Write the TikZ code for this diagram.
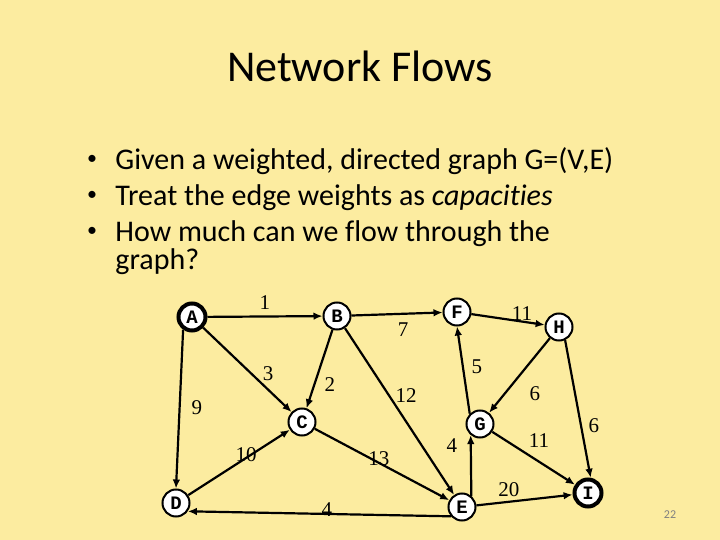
\documentclass[tikz,border=0pt]{standalone}
\usepackage{fontspec}
\setmainfont{Carlito}[Ligatures=NoCommon]
\newfontfamily\weightfont{Liberation Serif}
\newfontfamily\vertexfont{Liberation Mono}
\usetikzlibrary{arrows.meta}

\definecolor{slideyellow}{RGB}{252,236,160}

\tikzset{
  vertex/.style={circle, draw=black, fill=white, line width=1pt,
    minimum size=13.5pt, inner sep=0pt,
    font=\vertexfont\bfseries\fontsize{9.5}{9.5}\selectfont},
  terminal/.style={vertex, line width=2pt},
  flow/.style={line width=1.1pt, -{Latex[length=4.5pt,width=3.8pt]}},
  weight/.style={inner sep=0pt, font=\weightfont\fontsize{10.5}{10.5}\selectfont},
  bullettext/.style={anchor=base west, inner sep=0pt,
    font=\fontsize{15}{15}\selectfont},
  dot/.style={inner sep=0pt, font=\fontsize{10}{10}\selectfont}
}

\begin{document}
\begin{tikzpicture}[x=0.5pt,y=-0.5pt]
    \fill[slideyellow] (0,0) rectangle (720,540);

    % title and bullets
    \node[anchor=base, font=\fontsize{22}{22}\selectfont] (title) at (360,82) {Network Flows};
    \node[dot] (dot1) at (92,160) {\textbullet};
    \node[dot] (dot2) at (92,196) {\textbullet};
    \node[dot] (dot3) at (92,232) {\textbullet};
    \node[bullettext] (line1) at (115,170) {Given a weighted, directed graph G=(V,E)};
    \node[bullettext] (line2) at (115,206) {Treat the edge weights as \textit{capacities}};
    \node[bullettext] (line3) at (115,242) {How much can we flow through the};
    \node[bullettext] (line4) at (115,270) {graph?};

    % vertices
    \node[terminal] (A) at (192,317) {A};
    \node[vertex] (B) at (337,316) {B};
    \node[vertex] (F) at (457,312) {F};
    \node[vertex] (H) at (559,327) {H};
    \node[vertex] (C) at (302,422) {C};
    \node[vertex] (G) at (480,424) {G};
    \node[vertex] (D) at (176,503) {D};
    \node[vertex] (E) at (462,507) {E};
    \node[terminal] (I) at (588,493) {I};

    % edges
    \draw[flow] (A) -- (B);
    \draw[flow] (A) -- (C);
    \draw[flow] (A.235) -- (D.north);
    \draw[flow] (B) -- (C);
    \draw[flow] (B) -- (F);
    \draw[flow] (B) -- (E);
    \draw[flow] (F) -- (H);
    \draw[flow] (G.135) -- (F.south);
    \draw[flow] (H) -- (G);
    \draw[flow] (H.-65) -- (I.80);
    \draw[flow] (D) -- (C);
    \draw[flow] (C) -- (E);
    \draw[flow] (E.50) -- (G.230);
    \draw[flow] (G) -- (I);
    \draw[flow] (E) -- (I);
    \draw[flow] (E.220) -- (D.-35);

    % capacities
    \node[weight] (wAB) at (265,303) {1};
    \node[weight] (wBF) at (403,330) {7};
    \node[weight] (wFH) at (522,314) {11};
    \node[weight] (wAC) at (268,374) {3};
    \node[weight] (wBC) at (330,385) {2};
    \node[weight] (wBE) at (406,396) {12};
    \node[weight] (wGF) at (477,367) {5};
    \node[weight] (wHG) at (535,394) {6};
    \node[weight] (wAD) at (197,408) {9};
    \node[weight] (wDC) at (246,455) {10};
    \node[weight] (wCE) at (379,459) {13};
    \node[weight] (wEG) at (452,446) {4};
    \node[weight] (wGI) at (539,441) {11};
    \node[weight] (wHI) at (594,426) {6};
    \node[weight] (wEI) at (509,490) {20};
    \node[weight] (wED) at (327,510) {4};

    \node[text=gray, font=\fontsize{6}{6}\selectfont] (page) at (670,515) {22};
\end{tikzpicture}
\end{document}
